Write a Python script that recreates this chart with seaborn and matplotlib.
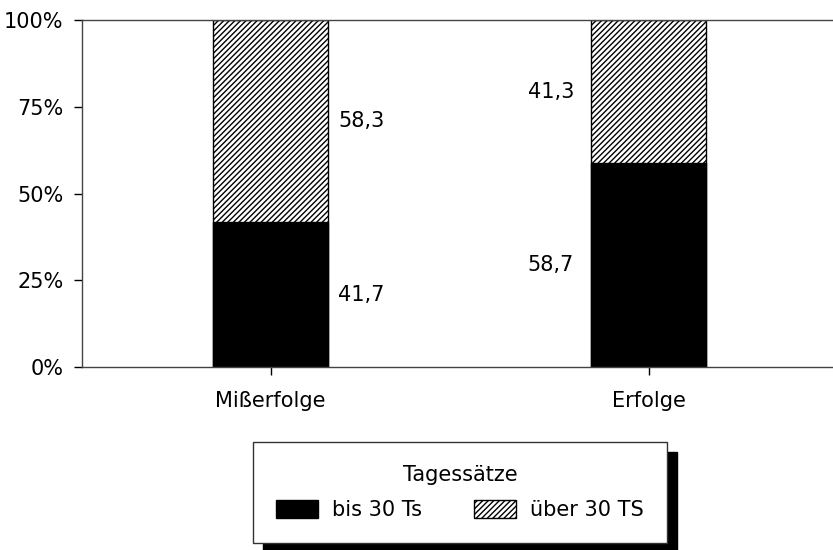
import matplotlib
matplotlib.use("Agg")
import matplotlib.pyplot as plt
import seaborn as sns
import pandas as pd
from matplotlib.patches import Patch

categories = ["Mißerfolge", "Erfolge"]
bis_30 = [41.7, 58.7]
ueber_30 = [58.3, 41.3]
value_labels_bis = ["41,7", "58,7"]
value_labels_ueber = ["58,3", "41,3"]
yticks = [0, 25, 50, 75, 100]
ytick_labels = ["0%", "25%", "50%", "75%", "100%"]
legend_title = "Tagessätze"
legend_labels = ["bis 30 Ts", "über 30 TS"]

sns.set_theme(style="white")
plt.rcParams['font.family'] = ['DejaVu Sans']
plt.rcParams['text.color'] = 'black'
plt.rcParams['axes.labelcolor'] = 'black'
plt.rcParams['xtick.color'] = 'black'
plt.rcParams['ytick.color'] = 'black'
plt.rcParams['hatch.linewidth'] = 1.0
plt.rcParams['hatch.color'] = 'black'

FS = 15
HATCH = "//////"
fig = plt.figure(figsize=(8.33, 5.5), dpi=100)
ax = fig.add_axes([81.5/833, 1 - 367/550, (837.5 - 81.5)/833, (367 - 20)/550])

df = pd.DataFrame({"cat": categories,
                   "total": [b + u for b, u in zip(bis_30, ueber_30)],
                   "bis": bis_30})

sns.barplot(data=df, x="cat", y="total", ax=ax, color="white",
            edgecolor="black", linewidth=1.0, width=0.304, saturation=1)
for p in ax.patches:
    p.set_hatch(HATCH)
sns.barplot(data=df, x="cat", y="bis", ax=ax, color="black",
            edgecolor="black", linewidth=1.0, width=0.304, saturation=1)

ax.set_xlim(-0.5, 1.5)
ax.set_ylim(0, 100)
ax.set_yticks(yticks)
ax.set_yticklabels(ytick_labels, fontsize=FS, color="black")
ax.set_xticks(range(len(categories)))
ax.set_xticklabels(categories, fontsize=FS, color="black")
ax.set_xlabel("")
ax.set_ylabel("")
ax.tick_params(axis="y", direction="out", length=6, width=1, pad=7, colors="black", left=True)
ax.tick_params(axis="x", direction="out", length=6, width=1, pad=11, colors="black", bottom=True)

for s in ["left", "top", "bottom"]:
    ax.spines[s].set_visible(True)
    ax.spines[s].set_color("#444444")
    ax.spines[s].set_linewidth(1.0)
ax.spines["right"].set_visible(False)

# value labels
for i in range(len(categories)):
    y_b = bis_30[i] / 2
    y_u = bis_30[i] + ueber_30[i] / 2
    if i == 0:
        x, ha = i + 0.179, "left"
    else:
        x, ha = i - 0.197, "right"
    ax.text(x, y_b, value_labels_bis[i], ha=ha, va="center", fontsize=FS, color="black")
    ax.text(x, y_u, value_labels_ueber[i], ha=ha, va="center", fontsize=FS, color="black")

handles = [Patch(facecolor="black", edgecolor="black"),
           Patch(facecolor="white", edgecolor="black", hatch=HATCH)]
leg = fig.legend(handles=handles, labels=legend_labels, title=legend_title,
                 loc="center", bbox_to_anchor=(460/833, 1 - 492.5/550),
                 ncol=2, fontsize=FS, title_fontsize=FS, frameon=True,
                 fancybox=False, framealpha=1, edgecolor="#333333",
                 handlelength=2.0, handleheight=1.0, handletextpad=0.7,
                 columnspacing=2.5, borderpad=1.1, labelspacing=0.7,
                 shadow={"ox": 7.2, "oy": -7.2, "color": "black", "alpha": 1})
leg.get_frame().set_linewidth(1.0)
for t in leg.get_texts():
    t.set_color("black")
leg.get_title().set_color("black")

fig.savefig("out.png", dpi=100)
